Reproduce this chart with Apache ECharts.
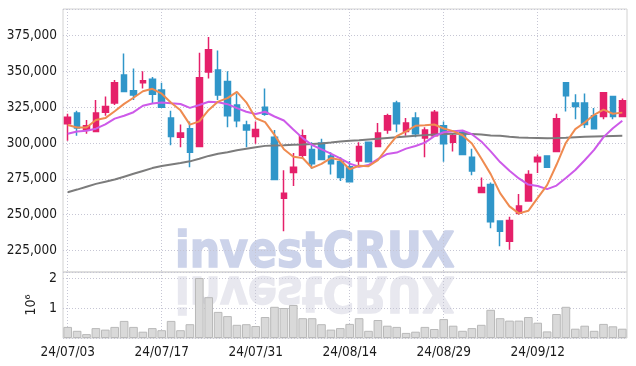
<!DOCTYPE html>
<html>
<head>
<meta charset="utf-8">
<script src="https://cdn.jsdelivr.net/npm/echarts@6.0.0/dist/echarts.min.js"></script>
<style>
  html, body { margin: 0; padding: 0; background: #fff; }
  #chart { width: 636px; height: 366px; }
</style>
</head>
<body>
<div id="chart"></div>
<script>
// trading days
const dates = [
  "24/07/03","24/07/04","24/07/05","24/07/08","24/07/09","24/07/10","24/07/11","24/07/12","24/07/15","24/07/16",
  "24/07/17","24/07/18","24/07/19","24/07/22","24/07/23","24/07/24","24/07/25","24/07/26","24/07/29","24/07/30",
  "24/07/31","24/08/01","24/08/02","24/08/05","24/08/06","24/08/07","24/08/08","24/08/09","24/08/12","24/08/13",
  "24/08/14","24/08/16","24/08/19","24/08/20","24/08/21","24/08/22","24/08/23","24/08/26","24/08/27","24/08/28",
  "24/08/29","24/08/30","24/09/02","24/09/03","24/09/04","24/09/05","24/09/06","24/09/09","24/09/10","24/09/11",
  "24/09/12","24/09/13","24/09/19","24/09/20","24/09/23","24/09/24","24/09/25","24/09/26","24/09/27","24/09/30"
];
const xTickLabels = ["24/07/03","24/07/17","24/07/31","24/08/14","24/08/29","24/09/12"];

// [open, close, low, high]
const ohlc = [
  [313500,318000,301500,320500],[321000,310500,305000,322500],[309500,312000,306500,316000],[308000,321000,308000,330000],
  [321500,325500,319000,332500],[328000,342000,326500,344000],[347500,336000,336000,362500],[336500,333500,330000,352000],
  [342000,343500,338000,350000],[344500,334000,328000,346000],[337000,325000,325000,342000],[317500,304500,298500,322500],
  [304000,307000,297000,313000],[310000,293500,283000,315000],[297500,345500,297500,363000],[349500,365000,345000,374000],
  [351000,333500,330000,364500],[343000,319000,311000,350000],[326500,315500,311000,334500],[312500,309000,297000,315500],
  [304500,309500,299500,315000],[325000,320000,319000,338000],[304000,274500,274500,309000],[261500,265000,238500,281000],
  [279500,283000,270000,293000],[291500,305000,289000,309500],[295500,285500,282000,300500],[300000,288500,288500,303000],
  [291000,285500,278000,293500],[287000,276000,273500,290000],[283500,273000,273000,287500],[287500,297500,283000,300500],
  [300500,287000,287000,301000],[297500,307000,297500,314000],[309000,319000,306500,320500],[328000,313500,307500,329500],
  [308000,314000,305000,317500],[317500,306500,304000,321500],[303500,309000,290000,311000],[305000,321500,305000,323000],
  [312000,299500,287000,315000],[300500,305000,294000,306500],[307500,292000,292000,308500],[290000,280500,277500,296000],
  [265500,269000,265000,276000],[271000,245000,240500,272500],[245500,238500,228000,246000],[231500,246000,225500,248500],
  [251000,256000,250000,264500],[259500,278000,259000,281000],[287000,290000,279000,292000],[291000,283000,283000,291000],
  [294000,317000,294000,320500],[342000,333000,322000,342000],[328000,325500,316500,334000],[328000,313000,310500,334500],
  [319000,310000,310000,324500],[318500,335000,316500,335000],[332500,318500,316500,332500],[318500,329500,318500,331000]
];

const ma5 = [
  312500,310800,310800,316000,317400,322200,327300,331600,336100,337800,
  334400,328100,322800,312800,315100,323100,328900,331300,335700,328400,
  317300,314600,305700,295600,290400,289500,282600,285400,289500,288100,
  281700,284100,283800,288100,296700,304800,308100,312000,312400,312900,
  310100,308300,305400,299700,289200,278300,265000,255800,250900,252700,
  261700,270600,284800,300200,309700,314300,319700,323300,320400,321200
];
const ma10 = [
  306500,308000,308500,310000,313000,317000,319000,321500,326000,327600,
  328300,327700,327200,324500,326500,328800,328500,327100,324300,321800,
  320200,321800,318500,315700,309400,303400,298600,295600,292600,289300,
  285600,283400,284600,288800,292400,293300,296100,297900,300300,304800,
  307500,308200,308700,306100,301100,294200,286700,280600,275300,271000,
  270000,267800,270300,275600,281200,288000,295200,304100,310300,315500
];
const ma60 = [
  265700,267500,269500,271500,273000,274500,276500,278500,280500,282500,
  284000,285000,286000,287200,289000,291000,292500,293500,295000,296000,
  297000,298000,298300,298500,298800,299000,299300,299700,300300,301000,
  301600,302000,302500,303000,303500,304000,304500,305000,305500,306000,
  306300,306500,306500,306300,306000,305300,305000,304300,303900,303600,
  303500,303400,303500,303700,304000,304300,304500,304700,304900,305000
];
const volume = [
  370000,240000,130000,330000,280000,370000,570000,370000,210000,330000,
  260000,570000,260000,460000,2000000,1360000,870000,730000,440000,460000,
  400000,700000,1040000,1000000,1100000,660000,660000,460000,280000,330000,
  470000,660000,240000,600000,410000,370000,170000,210000,370000,300000,
  630000,410000,240000,330000,440000,940000,660000,580000,580000,700000,
  510000,220000,800000,1040000,310000,410000,240000,470000,390000,310000
];

const upColor = "#e5206a";
const downColor = "#3096c9";
const gridColor = "#c6c6d4";
const font = '"DejaVu Sans Condensed", sans-serif';
const showTick = (idx, val) => xTickLabels.indexOf(val) >= 0;

const chart = echarts.init(document.getElementById("chart"));

const wmStyle = {
  text: "investCRUX",
  x: 0,
  y: -18,
  font: 'bold 50px "DejaVu Sans Condensed"',
  textVerticalAlign: "middle",
  lineWidth: 1.5,
};

const option = {
  animation: false,
  textStyle: { fontFamily: font },
  grid: [
    { left: 63, width: 564, top: 9, height: 263, show: true, borderColor: "#d2d2d2", borderWidth: 1 },
    { left: 63, width: 564, top: 272, height: 66, show: true, borderColor: "#d2d2d2", borderWidth: 1 },
  ],
  xAxis: [
    {
      type: "category",
      gridIndex: 0,
      data: dates,
      boundaryGap: true,
      axisLine: { show: false },
      axisTick: { show: false },
      axisLabel: { show: false },
      splitLine: { show: true, interval: showTick, alignWithLabel: true, lineStyle: { color: gridColor, type: [1, 2] } },
    },
    {
      type: "category",
      gridIndex: 1,
      data: dates,
      boundaryGap: true,
      axisLine: { show: false },
      axisTick: { show: false },
      axisLabel: { interval: showTick, fontSize: 13.5, color: "#1a1a1a", margin: 7, fontFamily: font },
      splitLine: { show: true, interval: showTick, alignWithLabel: true, lineStyle: { color: gridColor, type: [1, 2] } },
    },
  ],
  yAxis: [
    {
      type: "value",
      gridIndex: 0,
      min: 210000,
      max: 393500,
      minInterval: 25000,
      maxInterval: 25000,
      axisLine: { show: false },
      axisTick: { show: false },
      axisLabel: {
        fontSize: 13.5,
        color: "#1a1a1a",
        margin: 6,
        showMinLabel: false,
        showMaxLabel: false,
        formatter: (v) => v.toLocaleString("en-US"),
      },
      splitLine: { lineStyle: { color: gridColor, type: [1, 2] } },
    },
    {
      type: "value",
      gridIndex: 1,
      min: 0,
      max: 2200000,
      interval: 1000000,
      name: "10⁶",
      nameLocation: "middle",
      nameRotate: 90,
      nameGap: 21,
      nameTextStyle: { fontSize: 14, color: "#222", fontFamily: font },
      axisLine: { show: false },
      axisTick: { show: false },
      axisLabel: {
        fontSize: 14,
        color: "#1a1a1a",
        margin: 6,
        showMinLabel: false,
        showMaxLabel: false,
        formatter: (v) => String(v / 1000000),
      },
      splitLine: { lineStyle: { color: gridColor, type: [1, 2] } },
    },
  ],
  graphic: [
    {
      // watermark and its reflection
      type: "group",
      x: 175,
      y: 272,
      scaleX: 0.95,
      z: -1,
      silent: true,
      children: [
        { type: "text", z: -1, style: Object.assign({}, wmStyle, { fill: "#ccd3ea", stroke: "#ccd3ea" }) },
        { type: "text", z: -1, scaleY: -1, style: Object.assign({}, wmStyle, { fill: "#e8e8ef", stroke: "#e8e8ef" }) },
      ],
    },
  ],
  series: [
    {
      name: "price",
      type: "candlestick",
      xAxisIndex: 0,
      yAxisIndex: 0,
      data: ohlc,
      barWidth: 6,
      itemStyle: {
        color: upColor,
        color0: downColor,
        borderColor: upColor,
        borderColor0: downColor,
        borderWidth: 1.5,
      },
    },
    {
      name: "MA60",
      type: "line",
      data: ma60,
      symbol: "none",
      lineStyle: { color: "#7c7c7c", width: 2 },
    },
    {
      name: "MA10",
      type: "line",
      data: ma10,
      symbol: "none",
      lineStyle: { color: "#cd5ae9", width: 2 },
    },
    {
      name: "MA5",
      type: "line",
      data: ma5,
      symbol: "none",
      lineStyle: { color: "#ef8b50", width: 2 },
    },
    {
      name: "volume",
      type: "bar",
      xAxisIndex: 1,
      yAxisIndex: 1,
      data: volume,
      barCategoryGap: "8%",
      itemStyle: { color: "#d9d9d9", borderColor: "#b9b9b9", borderWidth: 1 },
    },
  ],
};

chart.setOption(option);
</script>
</body>
</html>
